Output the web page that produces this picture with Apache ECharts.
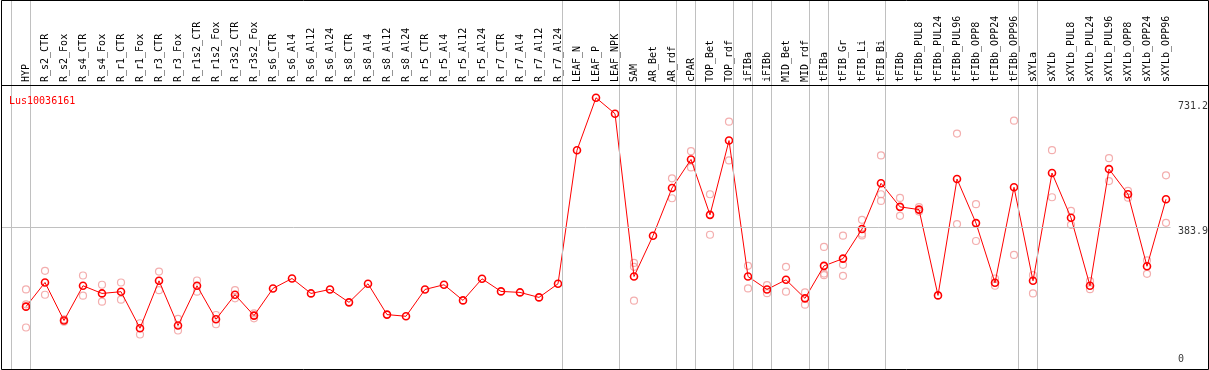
<!DOCTYPE html>
<html>
<head>
<meta charset="utf-8">
<script src="https://cdn.jsdelivr.net/npm/echarts@6/dist/echarts.min.js"></script>
<style>
html,body{margin:0;padding:0;background:#fff;}
#chart{width:1209px;height:370px;}
</style>
</head>
<body>
<div id="chart"></div>
<script>
const categories = ['HYP','R_s2_CTR','R_s2_Fox','R_s4_CTR','R_s4_Fox','R_r1_CTR','R_r1_Fox','R_r3_CTR','R_r3_Fox',
  'R_r1s2_CTR','R_r1s2_Fox','R_r3s2_CTR','R_r3s2_Fox','R_s6_CTR','R_s6_Al4','R_s6_Al12','R_s6_Al24',
  'R_s8_CTR','R_s8_Al4','R_s8_Al12','R_s8_Al24','R_r5_CTR','R_r5_Al4','R_r5_Al12','R_r5_Al24',
  'R_r7_CTR','R_r7_Al4','R_r7_Al12','R_r7_Al24','LEAF_N','LEAF_P','LEAF_NPK','SAM','AR_Bet','AR_rdf',
  'cPAR','TOP_Bet','TOP_rdf','iFIBa','iFIBb','MID_Bet','MID_rdf','tFIBa','tFIB_Gr','tFIB_Li','tFIB_Bi',
  'tFIBb','tFIBb_PUL8','tFIBb_PUL24','tFIBb_PUL96','tFIBb_OPP8','tFIBb_OPP24','tFIBb_OPP96',
  'sXYLa','sXYLb','sXYLb_PUL8','sXYLb_PUL24','sXYLb_PUL96','sXYLb_OPP8','sXYLb_OPP24','sXYLb_OPP96'];

const meanValues = [170.2,235.1,132.8,226.3,205.7,210.3,112.2,239.6,119.4,
  226.3,136.3,202.2,146.1,219.1,245.8,205.7,216.4,
  181.7,231.6,148.8,144.3,216.4,229.0,187.0,245.0,
  211.1,208.4,195.0,231.6,590.4,731.2,688.5,251.1,360.7,488.9,
  565.6,416.8,616.3,251.1,216.4,242.3,192.4,279.7,299.2,378.6,501.5,
  438.2,430.9,200.4,513.0,394.6,234.3,490.8,
  239.6,529.0,408.8,226.3,539.7,472.1,278.7,458.7];

const rep1 = [216.4,266.4,136.3,253.8,229.0,235.1,125.6,264.5,137.1,
  240.4,147.7,214.5,152.3,null,null,null,null,
  null,null,null,null,null,null,null,null,
  null,null,null,null,null,null,null,287.7,null,514.8,
  587.8,472.1,667.1,279.7,227.9,277.1,208.4,330.5,360.7,403.4,576.3,
  462.2,437.3,null,635.1,445.4,245.8,669.8,
  254.6,590.4,427.5,238.6,569.1,480.9,294.7,522.8];

const rep2 = [176.3,202.2,129.6,199.6,183.5,188.9,95.4,214.5,106.1,
  210.3,122.9,192.4,138.9,null,null,null,null,
  null,null,null,null,null,null,null,null,
  null,null,null,null,null,null,null,277.1,null,461.4,
  544.2,363.3,562.9,219.1,206.5,210.3,175.5,259.1,282.4,366.0,472.1,
  414.1,425.6,null,391.9,346.5,226.3,309.1,
  205.7,464.1,390.1,217.2,507.6,463.0,258.4,395.4];

const rep3 = [114.1,null,null,null,null,null,null,null,null,
  null,null,null,null,null,null,null,null,
  null,null,null,null,null,null,null,null,
  null,null,null,null,null,null,null,186.2,null,null,
  null,null,null,null,null,null,null,254.6,253.0,361.5,454.2,
  null,null,null,null,null,null,null,
  null,null,null,null,null,null,null,null];

// indices after which a group separator is drawn (-1 = before the first)
const groupEnds = [-1,0,28,31,34,35,37,38,39,41,42,45,52,53,60];

const yTickValues = [731.2, 383.9, 0];
const yTickLabels = ['731.2', '383.9', '0'];
const refLineValue = 383.9;
const geneName = 'Lus10036161';

// ---- layout / style ----
const MONO = '"DejaVu Sans Mono", "Liberation Mono", monospace';
const STEP = 19;              // px per category
const SEP_OFF = 4.5 / STEP;   // separator offset in category units
const xMin = -25 / STEP;
const xMax = 60 + SEP_OFF;
const yMin = 0;
const yMax = 991.2;
const yLabelOffsets = [[0, 9], [0, 4], [0, -10.5]];

const chart = echarts.init(document.getElementById('chart'), null, {renderer: 'canvas'});

const repData = [];
[rep1, rep2, rep3].forEach(arr => arr.forEach((v, i) => { if (v != null) repData.push([i, v]); }));

const option = {
  animation: false,
  backgroundColor: '#fff',
  title: {
    text: geneName, left: 4, top: 91,
    textStyle: {color: '#ff0000', fontFamily: MONO, fontSize: 10, fontWeight: 'normal'}
  },
  grid: [
    {left: 1, right: 38.5, top: 1, bottom: -2},
    {left: 16.5, right: 33.5, top: 85, height: 20}
  ],
  xAxis: [
    {type: 'value', gridIndex: 0, min: xMin, max: xMax, show: false},
    {type: 'category', gridIndex: 1, position: 'top', data: categories, boundaryGap: true,
     axisLine: {show: false}, axisTick: {show: false}, splitLine: {show: false},
     axisLabel: {rotate: 90, interval: 0, margin: 3, fontFamily: MONO, fontSize: 10, color: '#000'}}
  ],
  yAxis: [
    {type: 'value', gridIndex: 0, min: yMin, max: yMax, show: false},
    {type: 'value', gridIndex: 1, show: false}
  ],
  series: [
    {
      type: 'scatter', xAxisIndex: 0, yAxisIndex: 0, z: 2,
      data: repData, symbol: 'circle', symbolSize: 7,
      itemStyle: {color: 'rgba(0,0,0,0)', borderColor: '#f09a9a', borderWidth: 1.2},
      silent: true
    },
    {
      type: 'line', xAxisIndex: 0, yAxisIndex: 0, z: 3,
      data: meanValues.map((v, i) => [i, v]),
      symbol: 'circle', symbolSize: 7, showAllSymbol: true,
      lineStyle: {color: '#ff0000', width: 1},
      itemStyle: {color: 'rgba(0,0,0,0)', borderColor: '#ff0000', borderWidth: 1.6},
      silent: true,
      markLine: {
        silent: true, symbol: 'none', animation: false,
        label: {show: false},
        lineStyle: {color: '#c0c0c0', width: 1, type: 'solid'},
        data: groupEnds.map(g => ({xAxis: g + SEP_OFF})).concat([{yAxis: refLineValue}])
      }
    },
    {
      type: 'scatter', xAxisIndex: 0, yAxisIndex: 0, z: 4,
      data: yTickValues.map((v, i) => ({
        value: [xMax, v],
        label: {offset: yLabelOffsets[i], formatter: yTickLabels[i]}
      })),
      symbolSize: 0, silent: true,
      label: {show: true, position: 'right', distance: 7.5, fontFamily: MONO, fontSize: 10, color: '#000'}
    }
  ],
  graphic: [
    {type: 'rect', z: 100, silent: true,
     shape: {x: 1.5, y: 0.5, width: 1207, height: 369},
     style: {fill: null, stroke: '#000', lineWidth: 1}},
    {type: 'line', z: 100, silent: true,
     shape: {x1: 1, y1: 85.5, x2: 1209, y2: 85.5},
     style: {stroke: '#000', lineWidth: 1}}
  ]
};
chart.setOption(option);
</script>
</body>
</html>
